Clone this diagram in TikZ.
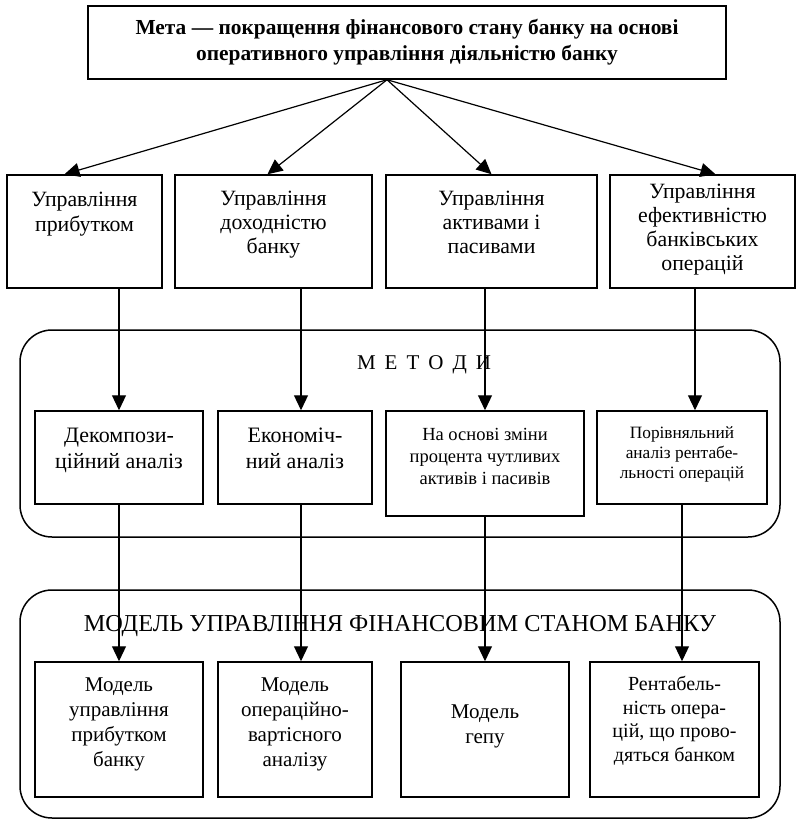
\documentclass[tikz,border=0pt]{standalone}
\usepackage{fontspec}
\setmainfont{Liberation Serif}
\usepackage{tikz}
\usetikzlibrary{arrows.meta}

% text set from the top of a box: width, height, gap above, text
\newcommand{\celltext}[4]{\parbox[c][#2][t]{#1}{\centering\vspace*{#3}\strut #4}}
\newcommand{\widespaces}{\spaceskip=9pt\relax}

\tikzset{
  box/.style={draw, line width=1.5pt, inner sep=0pt, font=\fontsize{21}{25}\selectfont},
  smallbox/.style={box, font=\fontsize{18.5}{22}\selectfont},
  frame/.style={draw, line width=1.5pt, rounded corners=32pt, inner sep=0pt},
  arr/.style={->, line width=1.2pt},
}

\begin{document}
\begin{tikzpicture}[x=1pt,y=-1pt,>={Triangle[length=15pt,width=14pt]}]
\useasboundingbox (0,0) rectangle (797,821);

\node[box,minimum width=638pt,minimum height=73pt,align=center,font=\fontsize{21.4}{26}\selectfont\bfseries] at (407,42.5) (goal)
  {Мета — покращення фінансового стану банку на основі\\оперативного управління діяльністю банку};

% tasks
\node[box,font=\fontsize{21.8}{25}\selectfont] at (84.5,231.5) (p1) {\celltext{155pt}{113pt}{14pt}{Управління\\прибутком}};
\node[box,font=\fontsize{21.8}{24}\selectfont] at (273.5,231.5) (p2) {\celltext{197pt}{113pt}{14pt}{Управління\\доходністю\\банку}};
\node[box,font=\fontsize{21.8}{24}\selectfont] at (491.5,231.5) (p3) {\celltext{211pt}{113pt}{14pt}{Управління\\активами і\\пасивами}};
\node[box,font=\fontsize{21.8}{24.3}\selectfont] at (702.5,231.5) (p4) {\celltext{185pt}{113pt}{6pt}{Управління\\ефективністю\\банківських\\операцій}};

% methods
\node[frame,minimum width=760pt,minimum height=207pt] at (400,433.5) (methods) {};
\node[font=\fontsize{21}{25}\selectfont\widespaces] at (424,365) (methodsname) {М Е Т О Д И};
\node[box,font=\fontsize{22}{26}\selectfont] at (119,457.5) (m1) {\celltext{168pt}{93pt}{13pt}{Декомпози-\\ційний аналіз}};
\node[box,font=\fontsize{22}{26}\selectfont] at (295,457.5) (m2) {\celltext{154pt}{93pt}{13pt}{Економіч-\\ний аналіз}};
\node[smallbox] at (485,463.5) (m3) {\celltext{198pt}{105pt}{14.5pt}{На основі зміни\\процента чутливих\\активів і пасивів}};
\node[smallbox,font=\fontsize{17.3}{20}\selectfont] at (682,457.5) (m4) {\celltext{170pt}{93pt}{13pt}{Порівняльний\\аналіз рентабе-\\льності операцій}};

% models
\node[frame,minimum width=760pt,minimum height=228pt] at (400,704) (model) {};
\node[font=\fontsize{24.3}{28}\selectfont] at (400,626) (modelname) {МОДЕЛЬ УПРАВЛІННЯ ФІНАНСОВИМ СТАНОМ БАНКУ};
\node[box] at (119,729.5) (b1) {\celltext{168pt}{135pt}{11.5pt}{Модель\\управління\\прибутком\\банку}};
\node[box] at (295,729.5) (b2) {\celltext{154pt}{135pt}{11.5pt}{Модель\\операційно-\\вартісного\\аналізу}};
\node[box] at (485,729.5) (b3) {\celltext{168pt}{135pt}{38.5pt}{Модель\\гепу}};
\node[box,font=\fontsize{20}{23.5}\selectfont] at (674.5,729.5) (b4) {\celltext{169pt}{135pt}{12.5pt}{Рентабель-\\ність опера-\\цій, що прово-\\дяться банком}};

\coordinate (apex) at ([xshift=-20pt]goal.south);
\draw[arr] (apex) -- ([xshift=-20pt]p1.north);
\draw[arr] (apex) -- ([xshift=-6pt]p2.north);
\draw[arr] (apex) -- (p3.north);
\draw[arr] (apex) -- ([xshift=13pt]p4.north);

\draw[arr] (p1.south -| m1.north) -- (m1.north);
\draw[arr] ([xshift=6pt]m2.north |- p2.south) -- ([xshift=6pt]m2.north);
\draw[arr] (m3.north |- p3.south) -- (m3.north);
\draw[arr] ([xshift=13pt]m4.north |- p4.south) -- ([xshift=13pt]m4.north);

\draw[arr] (m1.south) -- (b1.north);
\draw[arr] ([xshift=6pt]m2.south) -- ([xshift=6pt]b2.north);
\draw[arr] (m3.south) -- (b3.north);
\draw[arr] (m4.south) -- (m4.south |- b4.north);

\end{tikzpicture}
\end{document}
